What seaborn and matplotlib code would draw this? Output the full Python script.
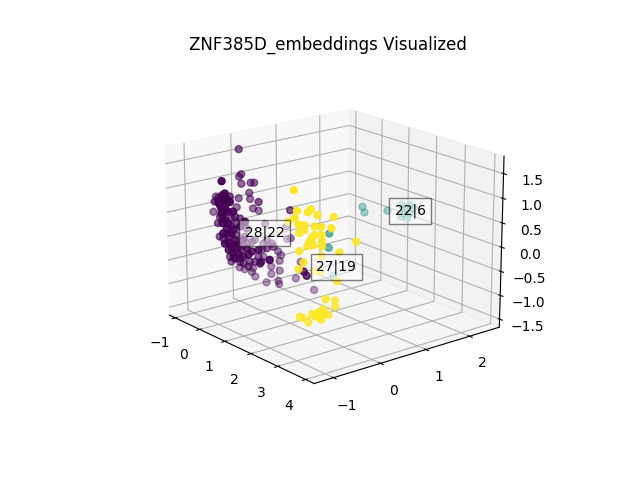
import numpy as np
import pandas as pd
import matplotlib
matplotlib.use('Agg')
import matplotlib.pyplot as plt
import seaborn as sns

title = 'ZNF385D_embeddings Visualized'

# cluster 0 (purple)
x0 = [-.72,-.69,-.72,-.69,-.56,-.51,-.58,-.57,-.73,-1.05,-1.09,-.53,-.45,-.76,-.36,-.06,-.05,0,-.18,-.14,-.16,-.16,-.28,-.28,-.35,-.18,-.17,.07,.33,-.39,-.30,-.41,-.54,-.56,-.51,-.73,-.66,-.82,.14,
      .44,0,-.38,-.31,-.55,-.43,-.27,-.06,.06,.18,-.13,-.01,-.27,-.39,.11,.20,-.20,-.10,.11,-.56,-.51,-.40,-.61,-.47,-.54,-.57,-.50,-.43,-.36,-.29,-.25,-.17,-.31,-.38,-.45,-.33,-.26,-.17,-.22,-.15,-.06,.03,-.41,
      .34,.40,.36,.31,.45,.38,.33,.35,.42,.49,.34,.40,.35,.65,.49,.58,.44,.37,.48,.50,.69,.74,.62,.85,.98,1.49,.51,.42,.62,.83,.36,.41,.29,.36,.39,.33,.38,.42,.46,.51,.55,.67,.46,.57,1.45]
y0 = [-.12,-.09,-.12,-.09,.04,.09,.02,.03,-.13,-.45,-.49,.07,.15,-.16,.24,.54,.55,.60,.42,.46,.44,.44,.32,.32,.25,.42,.43,.67,.93,.21,.30,.19,.06,.04,.09,-.13,-.06,-.22,.74,
      .34,-.10,-.48,-.41,-.65,-.53,-.37,-.16,-.04,.08,-.23,-.11,-.37,-.49,.01,.10,-.30,-.20,.01,-.66,-.61,-.50,-.71,-.57,-.64,-.67,-.60,-.53,-.46,-.39,-.35,-.27,-.41,-.48,-.55,-.43,-.36,-.27,-.32,-.25,-.16,-.07,-.51,
      -1.06,-1.00,-1.04,-1.09,-.95,-1.02,-1.07,-1.05,-.98,-.91,-1.06,-1.00,-1.05,-.75,-.91,-.82,-.96,-1.03,-.92,-.90,-.71,-.66,-.78,-.55,-.42,.09,-.89,-.98,-.78,-.57,-1.04,-.99,-1.11,-1.04,-1.01,-1.07,-1.02,-.98,-.94,-.89,-.85,-.73,-.94,-.83,.05]
z0 = [1.64,1.12,1.07,.92,.94,.94,.73,.60,.62,.66,.34,.40,.35,.43,.07,.01,-.26,-.24,-.52,-.60,-.72,-.93,-.84,-1.00,-1.18,-1.15,-1.22,-1.10,-1.36,-.63,-.70,-.48,-.87,-.95,-1.05,-.85,-.89,-.62,-.75,
      .50,.68,.35,.24,-.03,-.04,-.25,-.11,-.19,-.19,-.57,-.47,-.57,-.56,-.29,-.26,-.04,-.15,-.12,.77,.83,.80,.70,.52,.38,.25,-.07,-.14,-.28,-.21,-.32,-.18,0,.17,.03,.38,.34,.13,-.60,-.67,-.57,-.57,-.46,
      1.38,1.03,.97,.90,.96,1.13,.83,.66,.76,.76,.53,.42,.32,.55,.39,.45,.11,.11,-.09,-.20,-.13,-.06,-.16,-.31,-.24,-.58,.18,-.02,.18,-.03,1.07,.98,.97,.83,.90,.73,.59,.52,.32,.08,-.09,.01,.01,-.20,-.49]

# cluster 1 (teal)
x1 = [1.27,1.32,1.39,1.44,1.30,1.35,1.27,1.39,1.07,.71,.74,.29,1.24,1.23]
y1 = [2.37,2.42,2.49,2.54,2.40,2.45,2.37,2.49,2.17,1.81,1.84,1.39,.74,.73]
z1 = [.33,.25,.32,.25,.15,.04,.08,.15,.21,.30,.18,-1.18,.09,-.21]

# cluster 2 (yellow)
x2 = [1.51,1.55,1.70,1.74,1.83,2.05,1.43,1.52,1.57,1.65,1.65,1.58,1.79,1.88,2.02,1.89,1.79,1.75,1.72,1.69,1.77,1.89,1.89,2.36,1.58,2.13,1.88,1.64,1.57,1.86,2.10,1.94,2.07,2.07,1.91,1.58,1.63,1.70,1.75,1.82,1.86,1.98,1.86,1.79,1.88,1.93,1.84,1.91,.91]
y2 = [-.19,-.15,0,.04,.13,.35,-.27,-.18,-.13,-.05,-.05,-.12,.09,.18,.32,.19,.09,.05,.02,-.01,.07,.19,.19,.66,-.12,.43,.18,-.06,-.13,.16,.40,.24,.37,.37,.21,-.12,-.07,0,.05,.12,.16,.28,.16,.09,.18,.23,.14,.21,.61]
z2 = [1.24,.82,.79,.85,.73,.69,.61,.67,.54,.53,.43,.37,.50,.49,.46,.32,.33,.26,.19,.10,.12,.19,.09,.18,0,-.04,-.11,-.23,-.37,-.43,-.63,-1.00,-1.03,-1.16,-1.21,-1.36,-1.39,-1.48,-1.31,-1.29,-1.26,-1.33,-1.40,-1.36,-1.43,-1.30,-1.36,-1.30,-.74]

# cluster tags
tag_text = ['28|22', '27|19', '22|6']
tag_x = [.66, 1.65, 2.67]
tag_y = [-.34, .65, 1.67]
tag_z = [.23, -.50, .64]

df = pd.DataFrame({
    'x': x0 + x1 + x2,
    'y': y0 + y1 + y2,
    'z': z0 + z1 + z2,
    'cluster': [0] * len(x0) + [1] * len(x1) + [2] * len(x2),
})

cmap = sns.color_palette('viridis', as_cmap=True)

fig = plt.figure(figsize=(6.4, 4.8))
ax = fig.add_subplot(projection='3d')
ax.view_init(elev=18, azim=-39)
ax.scatter(df['x'], df['y'], df['z'], c=df['cluster'], cmap=cmap, s=25)

for x, y, z, t in zip(tag_x, tag_y, tag_z, tag_text):
    ax.text(x, y, z, t, ha='center', va='center', bbox=dict(facecolor='white', alpha=0.5))

ax.set_xlim(-1.25, 4.3)
ax.set_ylim(-1.4, 2.7)
ax.set_zlim(-1.67, 1.85)
ax.set_yticks([-1, 0, 1, 2])
ax.set_title(title)

plt.savefig('out.png', dpi=100)
plt.close()
